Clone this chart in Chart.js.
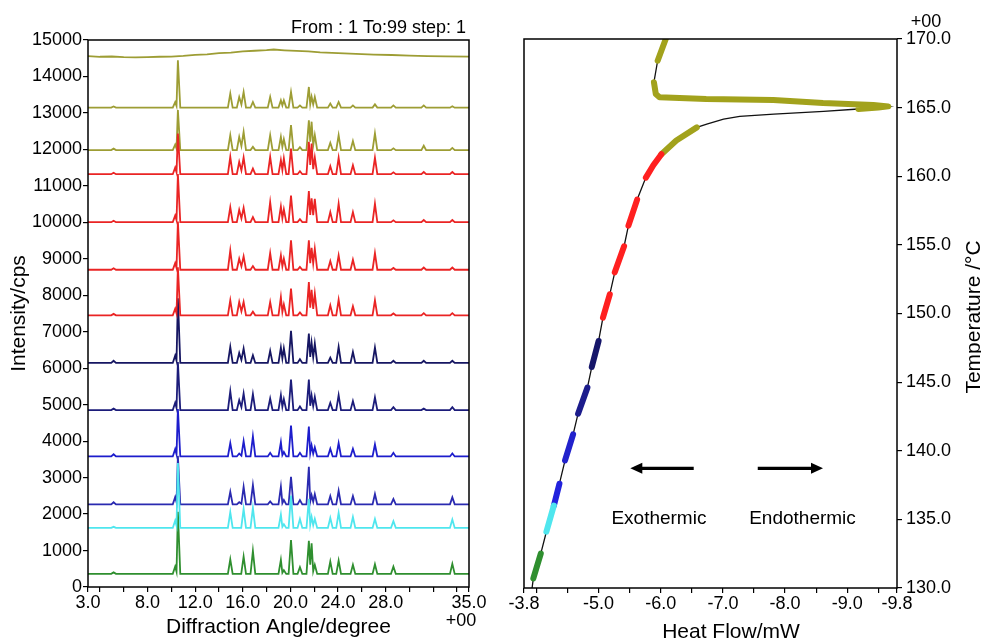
<!DOCTYPE html>
<html><head><meta charset="utf-8">
<script src="https://cdn.jsdelivr.net/npm/chart.js@4/dist/chart.umd.min.js"></script>
<style>
html,body{margin:0;padding:0;background:#fff;width:981px;height:641px;overflow:hidden}
canvas{position:absolute;top:0}
#xrd{left:0}
#dsc{left:490px}
</style></head><body>
<canvas id="xrd" width="490" height="641"></canvas>
<canvas id="dsc" width="491" height="641"></canvas>
<script>
const FONT = "'Liberation Sans', Arial, Helvetica, sans-serif";

// ---------- XRD (left) ----------
const xrdPeakAngles = [5.15, 10.32, 10.55, 14.95, 15.7, 16.07, 16.85, 18.3, 19.2, 19.45, 20.05, 20.8, 21.55, 21.78, 22.05, 23.35, 24.05, 25.25, 27.1, 28.65, 31.2, 33.6];
// baselines (cps) of the stacked patterns, bottom to top
const xrdBaselines = [360, 1620, 2265, 3580, 4850, 6145, 7450, 8700, 10005, 11320, 11980, 13145];
// peak heights above baseline, one per angle in xrdPeakAngles
const peaksGreen  = [40, 200, 1700, 400, 0, 475, 630, 0, 384, 100, 930, 183, 905, 840, 247, 338, 365, 247, 265, 200, 0, 274];
const peaksCyan   = [30, 200, 1780, 430, 0, 520, 548, 0, 365, 100, 886, 247, 795, 300, 250, 274, 411, 300, 247, 183, 0, 228];
const peaksBlueA  = [60, 200, 1330, 347, 60, 484, 530, 80, 484, 120, 758, 120, 1033, 250, 283, 228, 375, 228, 283, 150, 0, 192];
const peaksBlueB  = [60, 200, 1300, 365, 80, 420, 548, 100, 393, 120, 850, 100, 822, 300, 250, 210, 365, 210, 329, 100, 0, 80];
const peaksNavyA  = [40, 200, 1320, 520, 274, 457, 440, 320, 411, 300, 840, 100, 840, 400, 365, 200, 411, 247, 347, 80, 40, 80];
const peaksNavyB  = [60, 200, 1770, 440, 274, 393, 210, 329, 420, 400, 877, 100, 804, 550, 530, 146, 440, 300, 420, 60, 60, 60];
const peaksRedA   = [40, 180, 1320, 411, 365, 365, 100, 365, 500, 300, 731, 80, 913, 700, 594, 274, 430, 247, 411, 50, 60, 60];
const peaksRedB   = [40, 180, 1320, 530, 300, 365, 100, 457, 393, 300, 804, 80, 804, 600, 575, 237, 393, 274, 457, 50, 60, 60];
const peaksRedC   = [40, 180, 1320, 411, 338, 393, 137, 548, 430, 350, 731, 80, 850, 650, 640, 274, 502, 274, 502, 50, 60, 60];
const peaksRedD   = [40, 180, 1115, 475, 338, 457, 155, 475, 384, 430, 704, 80, 887, 840, 457, 220, 448, 247, 448, 50, 60, 60];
const peaksOliveA = [40, 150, 1100, 411, 365, 500, 90, 411, 365, 300, 685, 80, 820, 780, 411, 200, 411, 247, 457, 50, 120, 60];
const peaksOliveB = [30, 150, 1300, 384, 292, 430, 155, 292, 200, 200, 430, 60, 567, 300, 292, 110, 155, 60, 90, 60, 60, 40];
// top (amorphous / melt) pattern
const amorphAngles    = [3, 4, 5, 6, 7, 8, 9, 10, 11, 12, 13, 14, 15, 16, 17, 18, 18.6, 19.5, 20.5, 21.5, 22.5, 24, 25.5, 27, 28.5, 30, 31.5, 33, 35];
const amorphIntensity = [14560, 14540, 14548, 14530, 14522, 14532, 14540, 14546, 14562, 14590, 14608, 14640, 14655, 14690, 14705, 14720, 14740, 14718, 14700, 14688, 14660, 14640, 14622, 14600, 14588, 14570, 14560, 14550, 14545];
const xrdPeakSets  = [peaksGreen, peaksCyan, peaksBlueA, peaksBlueB, peaksNavyA, peaksNavyB, peaksRedA, peaksRedB, peaksRedC, peaksRedD, peaksOliveA, peaksOliveB];
const xrdColors    = ['#2f8f2f', '#4fe6ee', '#2a2ab0', '#1d1dcc', '#1c1c7a', '#161662', '#ea2424', '#ea2424', '#ea2424', '#ea2424', '#9d9d34', '#9d9d34'];
const xrdOrders    = [5, 1, 3, 3, 3, 3, 2, 2, 2, 2, 4, 4];
const xrdTickValues = [3, 4, 6, 8, 10, 12, 14, 16, 18, 20, 22, 24, 26, 28, 30, 32, 34, 35];
const xrdTickLabels = [3, 8, 12, 16, 20, 24, 28, 35];

// ---------- DSC (right) ----------
const dscHeatFlow = [-3.93, -3.95, -4.07, -4.16, -4.28, -4.37, -4.46, -4.59, -4.67, -4.82, -4.89, -5.00, -5.07, -5.18, -5.26, -5.41, -5.48, -5.62, -5.76, -5.88, -6.01, -6.25, -6.58, -6.74, -7.01, -7.27, -7.82, -8.62, -9.18, -9.50, -9.66, -9.42, -8.61, -7.81, -6.73, -5.98, -5.92, -5.89, -5.95, -6.08];
const dscTemp     = [130.0, 130.7, 132.5, 134.1, 136.0, 137.6, 139.3, 141.2, 142.7, 144.6, 146.1, 148.0, 149.7, 151.4, 153.0, 154.9, 156.4, 158.3, 159.9, 160.8, 161.6, 162.6, 163.56, 163.80, 164.16, 164.36, 164.53, 164.72, 164.9, 165.0, 165.09, 165.19, 165.33, 165.55, 165.62, 165.75, 165.99, 166.85, 168.42, 170.0];
const dscSegStart  = [1, 3, 4, 6, 8, 10, 12, 14, 16, 18, 20, 28, 38];
const dscSegEnd    = [2, 4, 5, 7, 9, 11, 13, 15, 17, 20, 22, 37, 39];
const dscSegColors = ['#2f8f2f', '#4fe6ee', '#2222dd', '#2222cc', '#1c1c8c', '#16166a', '#ff2020', '#ff2020', '#ff2020', '#ff2020', '#a2a21c', '#a2a21c', '#a2a21c'];
const dscTickValues = [-3.8, -4.0, -4.5, -5.0, -5.5, -6.0, -6.5, -7.0, -7.5, -8.0, -8.5, -9.0, -9.5, -9.8];
const dscTickLabels = [-3.8, -5.0, -6.0, -7.0, -8.0, -9.0, -9.8];
const exoArrow = [-6.53, -5.51];
const endoArrow = [-7.56, -8.61];
const arrowTemp = 138.72;
const noteTexts = ['Exothermic', 'Endothermic'];
const noteX = [-5.97, -8.28];
const noteTemp = 134.65;

// ---------- build ----------
Chart.defaults.font.family = FONT;
Chart.defaults.color = '#000';
Chart.defaults.animation = false;

const HW = 0.2;
function buildPattern(base, heights) {
  const pts = [{x: 3, y: base}];
  let prev = null;
  xrdPeakAngles.forEach((a, i) => {
    const h = heights[i];
    if (!h) return;
    if (prev && a - HW < prev.a + HW) {
      pts.pop();
      pts.push({x: (prev.a + a) / 2, y: base + 0.3 * Math.min(prev.h, h)});
    } else {
      pts.push({x: a - HW, y: base});
    }
    pts.push({x: a, y: base + h});
    pts.push({x: a + HW, y: base});
    prev = {a, h};
  });
  pts.push({x: 35, y: base});
  return pts;
}

const xrdDatasets = xrdPeakSets.map((hs, i) => ({
  label: 'pattern ' + (i + 1),
  data: buildPattern(xrdBaselines[i], hs),
  borderColor: xrdColors[i],
  borderWidth: 1.8,
  pointRadius: 0,
  showLine: true,
  tension: 0,
  order: xrdOrders[i]
}));
xrdDatasets.push({
  label: 'amorphous',
  data: amorphAngles.map((a, i) => ({x: a, y: amorphIntensity[i]})),
  borderColor: '#9d9d34', borderWidth: 1.8, pointRadius: 0, showLine: true, tension: 0, order: 4
});

function axisGrid() {
  return {drawOnChartArea: false, drawTicks: true, tickLength: 5, color: '#000', lineWidth: 1.2};
}

const leftDeco = {
  id: 'leftDeco',
  afterDraw(chart) {
    const {ctx, chartArea: a} = chart;
    ctx.save();
    ctx.strokeStyle = '#000'; ctx.lineWidth = 1.5;
    ctx.strokeRect(a.left, a.top, a.right - a.left, a.bottom - a.top);
    ctx.fillStyle = '#000';
    ctx.font = '18px ' + FONT;
    ctx.textAlign = 'right'; ctx.textBaseline = 'alphabetic';
    ctx.fillText('From : 1 To:99 step: 1', a.right - 3, a.top - 7);
    ctx.textAlign = 'center';
    ctx.fillText('+00', chart.scales.x.getPixelForValue(35) - 8, a.bottom + 39);
    ctx.restore();
  }
};

new Chart(document.getElementById('xrd'), {
  type: 'scatter',
  data: {datasets: xrdDatasets},
  options: {
    responsive: false, devicePixelRatio: 1, events: [],
    layout: {padding: {top: 40, right: 21, left: 0, bottom: 0}},
    plugins: {legend: {display: false}, tooltip: {enabled: false}},
    scales: {
      x: {
        type: 'linear', min: 3, max: 35,
        afterBuildTicks: s => { s.ticks = xrdTickValues.map(v => ({value: v})); },
        afterFit: s => { s.height = 54; },
        ticks: {autoSkip: false, maxRotation: 0, padding: 0, font: {size: 18},
                callback: v => xrdTickLabels.includes(v) ? v.toFixed(1) : ''},
        grid: axisGrid(), border: {display: false},
        title: {display: true, text: 'Diffraction Angle/degree', font: {size: 21, lineHeight: 1.2}, padding: {top: 0, bottom: 1}}
      },
      y: {
        type: 'linear', min: 0, max: 15000,
        afterFit: s => { s.width = 88; },
        ticks: {stepSize: 1000, padding: 1, font: {size: 18}, callback: v => String(v)},
        grid: axisGrid(), border: {display: false},
        title: {display: true, text: 'Intensity/cps', font: {size: 21, lineHeight: 1.2}, padding: {top: 7, bottom: 0}}
      }
    }
  },
  plugins: [leftDeco]
});

// DSC chart
const dscCurve = dscHeatFlow.map((h, i) => ({x: h, y: dscTemp[i]}));
const dscDatasets = [{
  label: 'heat flow', data: dscCurve, borderColor: '#111', borderWidth: 1.3,
  pointRadius: 0, showLine: true, tension: 0, order: 2
}];
dscSegStart.forEach((s, i) => {
  dscDatasets.push({
    label: 'segment ' + (i + 1),
    data: dscCurve.slice(s, dscSegEnd[i] + 1),
    borderColor: dscSegColors[i], borderWidth: 6,
    borderCapStyle: 'round', borderJoinStyle: 'round',
    pointRadius: 0, showLine: true, tension: 0, order: 1
  });
});

function drawArrow(ctx, x1, x2, y) {
  const dir = Math.sign(x2 - x1);
  ctx.beginPath();
  ctx.lineWidth = 3.2;
  ctx.moveTo(x1, y); ctx.lineTo(x2 - dir * 10, y);
  ctx.stroke();
  ctx.beginPath();
  ctx.moveTo(x2, y); ctx.lineTo(x2 - dir * 12, y - 5.5); ctx.lineTo(x2 - dir * 12, y + 5.5);
  ctx.closePath(); ctx.fill();
}

const rightDeco = {
  id: 'rightDeco',
  afterDraw(chart) {
    const {ctx, chartArea: a} = chart;
    const xs = chart.scales.x, ys = chart.scales.y;
    ctx.save();
    ctx.strokeStyle = '#000'; ctx.fillStyle = '#000'; ctx.lineWidth = 1.5;
    ctx.strokeRect(a.left, a.top, a.right - a.left, a.bottom - a.top);
    const ay = ys.getPixelForValue(arrowTemp);
    drawArrow(ctx, xs.getPixelForValue(exoArrow[0]), xs.getPixelForValue(exoArrow[1]), ay);
    drawArrow(ctx, xs.getPixelForValue(endoArrow[0]), xs.getPixelForValue(endoArrow[1]), ay);
    ctx.font = '19px ' + FONT;
    ctx.textAlign = 'center'; ctx.textBaseline = 'alphabetic';
    noteTexts.forEach((t, i) => ctx.fillText(t, xs.getPixelForValue(noteX[i]), ys.getPixelForValue(noteTemp)));
    ctx.font = '18px ' + FONT;
    ctx.fillText('+00', a.right + 29, a.top - 12);
    ctx.font = '21px ' + FONT;
    ctx.fillText('Heat Flow/mW', a.left + 207, a.bottom + 49.5);
    ctx.translate(chart.width - 1, (a.top + a.bottom) / 2 + 3.5);
    ctx.rotate(-Math.PI / 2);
    ctx.fillText('Temperature /°C', 0, 0);
    ctx.restore();
  }
};

new Chart(document.getElementById('dsc'), {
  type: 'scatter',
  data: {datasets: dscDatasets},
  options: {
    responsive: false, devicePixelRatio: 1, events: [],
    layout: {padding: {top: 39, right: 0, left: 34, bottom: 0}},
    plugins: {legend: {display: false}, tooltip: {enabled: false}},
    scales: {
      x: {
        type: 'linear', min: -9.8, max: -3.8, reverse: true,
        afterBuildTicks: s => { s.ticks = dscTickValues.map(v => ({value: v})); },
        afterFit: s => { s.height = 53; },
        ticks: {autoSkip: false, maxRotation: 0, padding: 0, font: {size: 18},
                callback: v => dscTickLabels.includes(v) ? v.toFixed(1) : ''},
        grid: axisGrid(), border: {display: false}
      },
      y: {
        type: 'linear', position: 'right', min: 130, max: 170,
        afterFit: s => { s.width = 84; },
        ticks: {stepSize: 5, padding: 4, font: {size: 18}, callback: v => v.toFixed(1)},
        grid: axisGrid(), border: {display: false}
      }
    }
  },
  plugins: [rightDeco]
});
</script>
</body></html>
